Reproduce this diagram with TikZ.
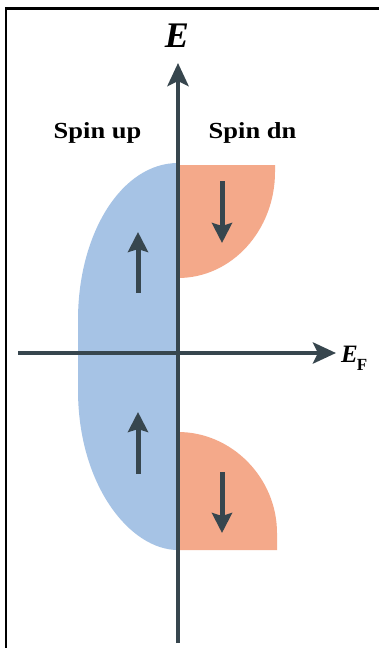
\documentclass[tikz,border=0pt]{standalone}
\usepackage{fontspec}
\usepackage{graphicx}
\setmainfont{Liberation Serif}
\usetikzlibrary{arrows.meta}
\definecolor{upblue}{HTML}{A6C3E5}
\definecolor{dnorange}{HTML}{F4A98A}
\definecolor{axisgray}{HTML}{37464E}
\tikzset{
  axisline/.style={draw=axisgray, line width=4.5pt, -{Stealth[length=23pt,width=21pt,inset=5pt]}},
  spinarrow/.style={draw=axisgray, line width=5pt, -{Stealth[length=20pt,width=20pt,inset=3pt]}},
  spinlabel/.style={anchor=base, inner sep=0pt, font=\fontsize{23}{26}\selectfont\bfseries},
}
\begin{document}
\begin{tikzpicture}[x=1pt,y=-1pt]
\useasboundingbox (0,0) rectangle (379,648);
\fill[white] (0,0) rectangle (379,648);
% frame
\draw[black, line width=2.5pt] (6,660) -- (6,8.5) -- (390,8.5);
% blue spin up DOS
\fill[upblue] (178,163) .. controls (122,163) and (78,233) .. (78,320)
  -- (78,390) .. controls (78,485) and (130,550) .. (178,550) -- cycle;
% orange spin dn DOS
\fill[dnorange] (178,165) -- (275,165) -- (275,172)
  .. controls (275,230) and (232,278) .. (178,278) -- cycle;
\fill[dnorange] (178,432) .. controls (232,432) and (277,478) .. (277,533)
  -- (277,550) -- (178,550) -- cycle;
% axes
\coordinate (ybot) at (178,643);
\coordinate (ytop) at (178,63);
\coordinate (xleft) at (18,353);
\coordinate (xright) at (336,353);
\draw[axisline] (ybot) -- (ytop);
\draw[axisline] (xleft) -- (xright);
% spin arrows
\coordinate (u1a) at (138,293); \coordinate (u1b) at (138,232);
\coordinate (u2a) at (138,474); \coordinate (u2b) at (138,412);
\coordinate (d1a) at (222,181); \coordinate (d1b) at (222,243);
\coordinate (d2a) at (222,472); \coordinate (d2b) at (222,533);
\draw[spinarrow] (u1a) -- (u1b);
\draw[spinarrow] (u2a) -- (u2b);
\draw[spinarrow] (d1a) -- (d1b);
\draw[spinarrow] (d2a) -- (d2b);
% labels
\node[anchor=base, inner sep=0pt, font=\fontsize{36}{40}\selectfont\bfseries\itshape] (elabel) at (177,47) {E};
\node[spinlabel] (uplabel) at (97.5,138) {\scalebox{1.15}[1]{Spin up}};
\node[spinlabel] (dnlabel) at (252.5,138) {\scalebox{1.15}[1]{Spin dn}};
\node[anchor=base west, inner sep=0pt] (eflabel) at (341,362) {\fontsize{25}{28}\selectfont\bfseries\itshape E\hspace{-1pt}\raisebox{-8pt}{\fontsize{17}{20}\selectfont\upshape F}};
\end{tikzpicture}
\end{document}
